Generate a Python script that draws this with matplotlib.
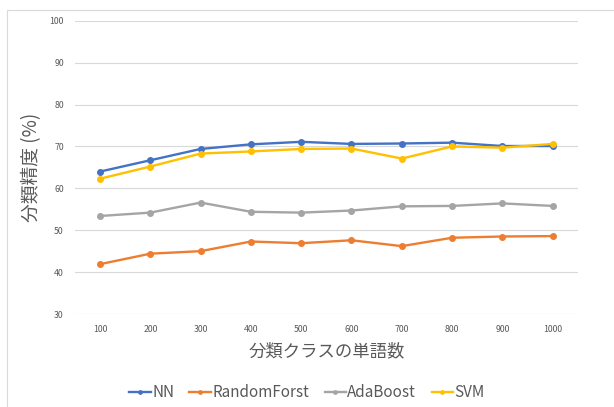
import matplotlib.pyplot as plt
from matplotlib.patches import Rectangle

plt.rcParams['font.family'] = ['Noto Sans CJK JP', 'DejaVu Sans']

# --- Dati ---
word_counts = ['100', '200', '300', '400', '500', '600', '700', '800', '900', '1000']
nn = [64.0, 66.7, 69.4, 70.5, 71.1, 70.6, 70.7, 70.9, 70.1, 70.1]
random_forst = [41.9, 44.4, 45.0, 47.3, 46.9, 47.6, 46.2, 48.2, 48.5, 48.6]
adaboost = [53.4, 54.2, 56.6, 54.4, 54.2, 54.7, 55.7, 55.8, 56.4, 55.8]
svm = [62.3, 65.2, 68.3, 68.8, 69.4, 69.5, 67.1, 70.0, 69.7, 70.6]

series = [
    ('NN', nn, '#4472C4'),
    ('RandomForst', random_forst, '#ED7D31'),
    ('AdaBoost', adaboost, '#A5A5A5'),
    ('SVM', svm, '#FFC000'),
]

text_color = '#595959'

fig = plt.figure(figsize=(6.14, 4.07), dpi=100)
ax = fig.add_axes([0.122, 0.2285, 0.819, 0.7205])

x = range(len(word_counts))
for name, values, color in series:
    ax.plot(x, values, color=color, linewidth=1.7, marker='o', markersize=4, label=name)

ax.set_xlim(-0.5, len(word_counts) - 0.5)
ax.set_ylim(30, 100)
ax.set_yticks(range(30, 101, 10))
ax.set_xticks(list(x))
ax.set_xticklabels(word_counts)
ax.tick_params(length=0, labelsize=6.3, colors=text_color, pad=8)
ax.grid(axis='y', color='#D9D9D9', linewidth=0.8)
ax.set_axisbelow(True)
for s in ax.spines.values():
    s.set_visible(False)

ax.set_ylabel('分類精度 (%)', fontsize=13.5, color=text_color, labelpad=5)
ax.set_xlabel('分類クラスの単語数', fontsize=12.5, color=text_color, labelpad=6)

fig.legend(loc='center', bbox_to_anchor=(0.5, 0.036), ncol=4, frameon=False,
           fontsize=11, labelcolor=text_color, handlelength=1.4, handletextpad=0.1,
           columnspacing=1.0, markerscale=0.6)

# bordo del grafico
fig.patches.append(Rectangle((7 / 614, -0.1), 1.2, 1.1 - 10 / 407, transform=fig.transFigure,
                             fill=False, edgecolor='#D9D9D9', linewidth=0.8))

plt.savefig('out.png')
